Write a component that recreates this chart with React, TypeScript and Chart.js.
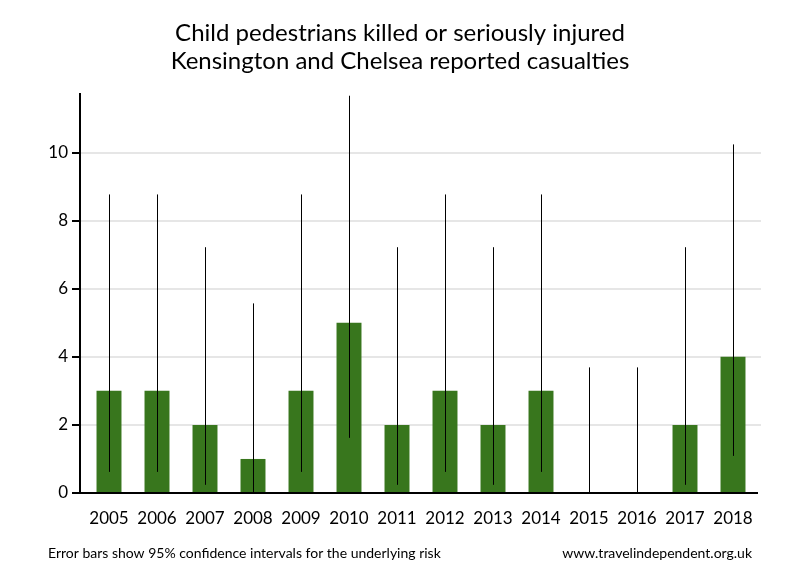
import React, { useEffect, useRef } from "react";
import { Chart, registerables } from "chart.js";

Chart.register(...registerables);

const years = ["2005", "2006", "2007", "2008", "2009", "2010", "2011", "2012", "2013", "2014", "2015", "2016", "2017", "2018"];
const casualties = [3, 3, 2, 1, 3, 5, 2, 3, 2, 3, 0, 0, 2, 4];
const ciLower = [0.62, 0.62, 0.24, 0.03, 0.62, 1.62, 0.24, 0.62, 0.24, 0.62, 0, 0, 0.24, 1.09];
const ciUpper = [8.77, 8.77, 7.22, 5.57, 8.77, 11.67, 7.22, 8.77, 7.22, 8.77, 3.69, 3.69, 7.22, 10.24];
const yTicks = [0, 2, 4, 6, 8, 10];
const titleLines = ["Child pedestrians killed or seriously injured", "Kensington and Chelsea reported casualties"];
const footLeft = "Error bars show 95% confidence intervals for the underlying risk";
const footRight = "www.travelindependent.org.uk";

const FONT = "Lato, 'Open Sans', sans-serif";

const decor = {
  id: "decor",
  beforeDatasetsDraw(chart: any) {
    const { ctx, chartArea, scales } = chart;
    const ys = scales.y;
    ctx.save();
    ctx.strokeStyle = "#e6e6e6";
    ctx.lineWidth = 2;
    yTicks.forEach((v) => {
      if (v === 0) return;
      const y = Math.round(ys.getPixelForValue(v));
      ctx.beginPath();
      ctx.moveTo(chartArea.left - 5, y);
      ctx.lineTo(chartArea.right + 4, y);
      ctx.stroke();
    });
    ctx.restore();
  },
  afterDatasetsDraw(chart: any) {
    const { ctx, chartArea, scales } = chart;
    const xs = scales.x;
    const ys = scales.y;
    ctx.save();
    ctx.strokeStyle = "#000";
    ctx.lineWidth = 1;
    years.forEach((_, i) => {
      const x = Math.round(xs.getPixelForValue(i)) + 0.5;
      ctx.beginPath();
      ctx.moveTo(x, ys.getPixelForValue(ciLower[i]));
      ctx.lineTo(x, ys.getPixelForValue(ciUpper[i]));
      ctx.stroke();
    });
    const ax = chartArea.left - 5;
    const bottom = Math.round(chartArea.bottom);
    ctx.lineWidth = 2;
    ctx.beginPath();
    ctx.moveTo(ax, chartArea.top);
    ctx.lineTo(ax, bottom + 1);
    ctx.moveTo(ax - 1, bottom);
    ctx.lineTo(chartArea.right + 1, bottom);
    ctx.stroke();
    yTicks.forEach((v) => {
      const y = Math.round(ys.getPixelForValue(v));
      ctx.beginPath();
      ctx.moveTo(ax - 8, y);
      ctx.lineTo(ax, y);
      ctx.stroke();
    });
    ctx.fillStyle = "#000";
    ctx.textBaseline = "middle";
    ctx.textAlign = "center";
    ctx.font = "24px " + FONT;
    ctx.fillText(titleLines[0], 400, 33);
    ctx.fillText(titleLines[1], 400, 61);
    ctx.font = "14px " + FONT;
    ctx.textAlign = "left";
    ctx.fillText(footLeft, 48, 553);
    ctx.textAlign = "right";
    ctx.fillText(footRight, 752, 553);
    ctx.restore();
  },
};

export default function App() {
  const ref = useRef<HTMLCanvasElement>(null);
  useEffect(() => {
    if (!ref.current) return;
    const chart = new Chart(ref.current, {
      type: "bar",
      data: {
        labels: years,
        datasets: [
          {
            data: casualties,
            backgroundColor: "#38761d",
            borderWidth: 0,
            barPercentage: 1,
            categoryPercentage: 0.52,
          },
        ],
      },
      options: {
        animation: false,
        responsive: false,
        layout: { padding: { left: 0, right: 43, top: 93, bottom: 27 } },
        plugins: {
          legend: { display: false },
          tooltip: { enabled: false },
          title: { display: false },
        },
        scales: {
          x: {
            grid: { display: false, drawTicks: false },
            border: { display: false },
            ticks: { color: "#000", font: { family: FONT, size: 17 }, padding: 15, maxRotation: 0, autoSkip: false },
            afterFit: (s: any) => { s.height = 60; },
          },
          y: {
            min: 0,
            max: 11.75,
            grid: { display: false, drawTicks: false },
            border: { display: false },
            afterBuildTicks: (s: any) => { s.ticks = yTicks.map((v) => ({ value: v })); },
            ticks: { color: "#000", font: { family: FONT, size: 17 }, padding: 17 },
            afterFit: (s: any) => { s.width = 85; },
          },
        },
      },
      plugins: [decor],
    });
    return () => chart.destroy();
  }, []);
  return (
    <div style={{ position: "fixed", left: 0, top: 0, width: 800, height: 580, background: "#fff" }}>
      <canvas ref={ref} width={800} height={580} style={{ display: "block" }} />
    </div>
  );
}
